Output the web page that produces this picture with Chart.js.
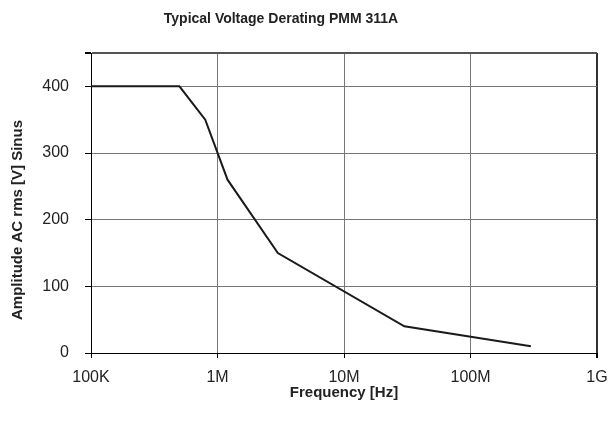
<!DOCTYPE html>
<html>
<head>
<meta charset="utf-8">
<script src="https://cdn.jsdelivr.net/npm/chart.js@4"></script>
<style>
  html, body { margin: 0; padding: 0; background: #fff; }
  #wrap { width: 609px; height: 432px; }
</style>
</head>
<body>
<div id="wrap"><canvas id="myChart" width="609" height="432"></canvas></div>
<script>
// data
const frequencies = [1e5, 5e5, 8e5, 1.2e6, 3e6, 3e7, 3e8];
const amplitudes = [400, 400, 350, 260, 150, 40, 10];
const xTicks = [1e5, 1e6, 1e7, 1e8, 1e9];
const xTickLabels = ['100K', '1M', '10M', '100M', '1G'];
const yTicks = [0, 100, 200, 300, 400, 450];

const fontFamily = "'Liberation Sans', Arial, sans-serif";
const ink = '#222';

// the chart title and the y title are both off centre in the original, so draw them here
const titlePlugin = {
    id: 'chartTitles',
    afterDraw(chart) {
        const c = chart.ctx;
        c.save();
        c.fillStyle = ink;
        c.textAlign = 'center';
        c.textBaseline = 'middle';
        c.font = "bold 14px " + fontFamily;
        c.fillText('Typical Voltage Derating PMM 311A', 281, 19);
        c.font = "bold 15px " + fontFamily;
        c.translate(18, 220);
        c.rotate(-Math.PI / 2);
        c.fillText('Amplitude AC rms [V] Sinus', 0, 0);
        c.restore();
    }
};

const ctx = document.getElementById('myChart');

new Chart(ctx, {
    type: 'line',
    data: {
        datasets: [{
            label: 'Amplitude',
            data: frequencies.map((f, i) => ({ x: f, y: amplitudes[i] })),
            borderColor: '#1a1a1a',
            borderWidth: 2,
            pointRadius: 0,
            tension: 0,
            fill: false
        }]
    },
    options: {
        responsive: false,
        animation: false,
        layout: { padding: { top: 53, right: 12, left: 0, bottom: 0 } },
        plugins: {
            legend: { display: false },
            tooltip: { enabled: false }
        },
        scales: {
            x: {
                type: 'logarithmic',
                min: 1e5,
                max: 1e9,
                afterBuildTicks: (scale) => { scale.ticks = xTicks.map(v => ({ value: v })); },
                afterFit: (scale) => {
                    scale.height = 79;
                    // labels may hang over the edges, keep the plot area fixed
                    scale.paddingLeft = 0;
                    scale.paddingRight = 0;
                },
                ticks: {
                    autoSkip: false,
                    maxRotation: 0,
                    padding: 10,
                    color: ink,
                    font: { family: fontFamily, size: 16 },
                    callback: (v) => xTickLabels[xTicks.indexOf(v)]
                },
                grid: {
                    color: (c) => c.tick && c.tick.value === 1e9 ? '#333' : '#777',
                    lineWidth: (c) => c.tick && c.tick.value === 1e9 ? 2 : 1,
                    tickColor: '#000',
                    tickLength: 5
                },
                border: { color: '#000', width: 1 },
                title: {
                    display: true,
                    text: 'Frequency [Hz]',
                    color: ink,
                    font: { family: fontFamily, size: 15, weight: 'bold' },
                    padding: { top: 0, bottom: 30 }
                }
            },
            y: {
                min: 0,
                max: 450,
                afterBuildTicks: (scale) => { scale.ticks = yTicks.map(v => ({ value: v })); },
                afterFit: (scale) => { scale.width = 91; },
                ticks: {
                    padding: 16,
                    color: ink,
                    font: { family: fontFamily, size: 16 },
                    callback: (v) => v === 450 ? '' : v
                },
                grid: {
                    color: (c) => c.tick && c.tick.value === 450 ? '#555' : '#777',
                    lineWidth: (c) => c.tick && c.tick.value === 450 ? 2 : 1,
                    tickColor: '#000',
                    tickLength: 6
                },
                border: { color: '#000', width: 1 }
            }
        }
    },
    plugins: [titlePlugin]
});
</script>
</body>
</html>
